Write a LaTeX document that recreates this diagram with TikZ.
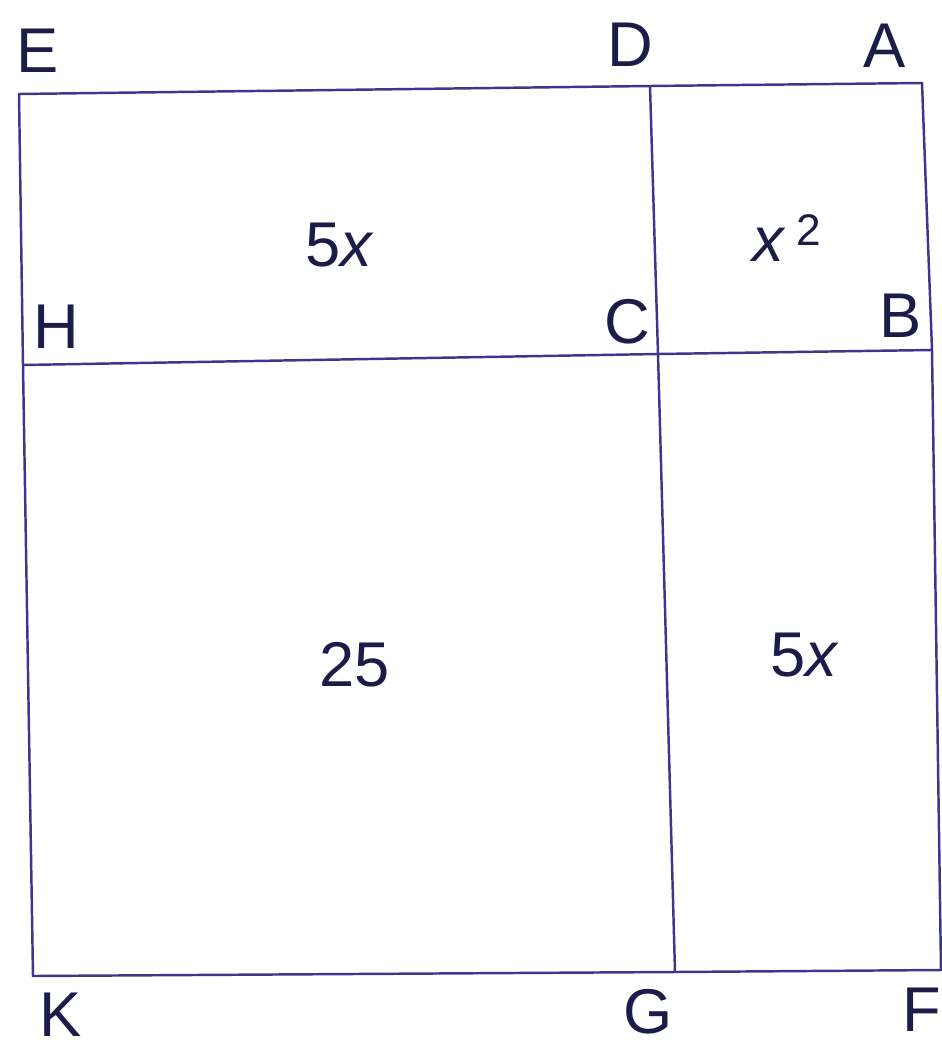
\documentclass[tikz,border=0pt]{standalone}
\usepackage{fontspec}
\setmainfont{Liberation Sans}
\definecolor{pen}{RGB}{62,54,140}
\definecolor{ink}{RGB}{28,28,72}
\begin{document}
\begin{tikzpicture}[x=0.02cm, y=-0.02cm, line width=1.4pt,
    lbl/.style={inner sep=0pt, text=ink, font=\fontsize{36}{40}\selectfont}]
    \useasboundingbox (0,0) rectangle (942,1051);

    \coordinate (E) at (19,94);
    \coordinate (D) at (650,86);
    \coordinate (A) at (922,83);
    \coordinate (H) at (23,365);
    \coordinate (C) at (658,354);
    \coordinate (B) at (932,350);
    \coordinate (K) at (33,976);
    \coordinate (G) at (675,972);
    \coordinate (F) at (941,970);

    \draw[pen] (E) -- (D) -- (A) -- (B) -- (F) -- (G) -- (K) -- (H) -- cycle;
    \draw[pen] (D) -- (C) -- (G);
    \draw[pen] (H) -- (C) -- (B);

    \node[lbl] (e) at (38,51) {E};
    \node[lbl] (d) at (630,45) {D};
    \node[lbl] (a) at (885,46) {A};
    \node[lbl] (h) at (56,327) {H};
    \node[lbl] (c) at (627,322) {C};
    \node[lbl] (b) at (901,316) {B};
    \node[lbl] (k) at (61,1015) {K};
    \node[lbl] (g) at (648,1012) {G};
    \node[lbl] (f) at (922,1010) {F};

    \node[lbl] (top) at (340,245) {5\textit{x}};
    \node[lbl] (sq) at (787,238) {\textit{x}\,\textsuperscript{2}};
    \node[lbl] (big) at (355,665) {25};
    \node[lbl] (side) at (805,655) {5\textit{x}};
\end{tikzpicture}
\end{document}
